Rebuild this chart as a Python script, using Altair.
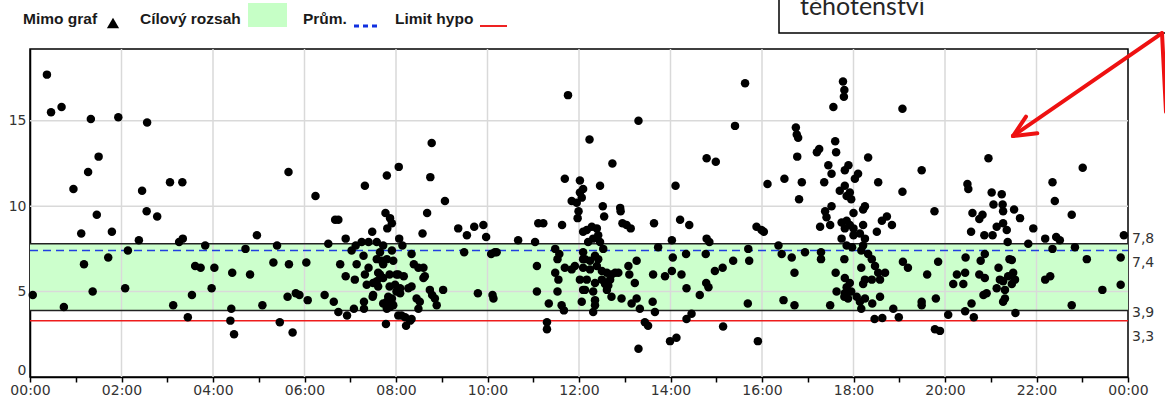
import altair as alt
import pandas as pd

# ---------------- data ----------------
hours = [
    0.37, 0.46, 0.69, 1.33, 1.93, 2.56, 1.50, 1.27, 0.95, 3.06, 3.33, 2.45, 1.46, 2.55, 2.78, 1.12, 1.79, 2.38,
    3.26, 3.34, 3.83, 2.14, 1.71, 1.18, 3.61, 3.73, 4.03, 0.06, 1.37, 2.08, 3.54, 3.97, 0.74, 3.13, 3.45,
    5.65, 6.24, 7.32, 7.80, 8.06, 4.96, 6.67, 6.74, 7.77, 7.87, 7.91, 7.81, 7.48, 6.90, 6.52, 5.40, 4.71, 4.42,
    4.81, 5.32, 5.66, 6.04, 5.08, 5.63, 5.81, 5.89, 6.07, 6.44, 6.64, 6.74, 6.93, 7.08, 7.30, 7.30, 4.40, 4.38,
    4.46, 5.46, 5.74, 7.78, 6.78, 6.90, 7.10, 7.14,
    7.03, 7.12, 7.25, 7.40, 7.58, 7.72, 7.91, 7.29, 7.40, 7.32, 7.58, 7.65, 7.72, 7.80, 7.94, 7.61, 7.72, 7.86,
    8.01, 7.36, 7.50, 7.61, 7.86, 8.01, 7.91, 7.80, 7.94, 7.50, 7.80, 8.05, 7.49, 7.69, 7.83, 7.72, 7.87, 7.65, 7.58,
    8.78, 8.75, 9.07, 8.68, 8.58, 9.36, 9.55, 9.71, 9.91, 9.97, 8.07, 8.14, 8.34, 9.49, 10.08, 10.16, 10.20,
    8.39, 8.49, 8.60, 8.63, 8.05, 8.17, 7.98, 8.09, 8.27, 8.34, 8.74, 8.79, 8.85, 9.03, 8.45, 8.52, 8.49, 8.89,
    9.79, 10.11, 10.13, 8.12, 8.31, 8.22, 10.67, 11.04, 11.11, 11.22, 11.63, 11.76, 11.69, 12.02, 12.02, 12.09,
    11.84, 11.95, 11.99, 11.97, 12.09, 11.08, 11.08, 11.34, 11.30, 11.30, 11.48, 11.57, 11.53, 11.48, 11.55,
    11.69, 11.91, 11.84, 12.02, 11.53, 11.62, 11.67, 12.06, 12.09, 12.09, 12.09,
    8.60, 7.80, 7.91, 8.09, 8.20, 8.34,
    13.30, 12.23, 12.73, 12.06, 12.46, 12.52, 12.55, 12.90, 12.91, 12.95, 13.04, 13.13, 13.64, 14.21, 14.41,
    14.11, 14.79, 14.99, 15.41, 15.63, 16.12, 15.88, 15.99, 16.04,
    12.17, 12.28, 12.39, 12.42, 12.31, 12.20, 12.46, 12.53, 12.13, 12.24, 12.35, 12.42, 12.09, 12.24, 12.39,
    12.50, 12.61, 12.71, 12.79, 12.86, 12.17, 12.35, 12.50, 12.57, 12.64, 12.68, 12.13, 12.31, 12.61, 12.71,
    12.93, 12.35, 12.35, 12.31, 13.08, 13.10, 13.26, 13.22, 13.15, 13.26, 13.33, 13.62, 13.88, 14.03, 14.24,
    13.61, 13.66, 13.44, 13.51, 13.30, 13.99, 14.13, 13.73, 14.03, 14.05, 14.34, 14.35, 14.35, 14.46, 14.64,
    14.79, 14.85, 14.77, 14.78, 14.83, 14.97, 15.14, 15.37, 15.15, 15.70, 15.72, 15.69, 15.91,
    17.77, 17.80, 17.79, 17.56, 19.07, 16.74, 16.76, 16.79, 16.77, 17.20, 17.25, 17.60, 17.62, 18.32, 17.45,
    17.52, 17.89, 17.81, 18.10, 18.03, 16.49, 16.87, 17.36, 18.54, 19.49, 19.07, 16.81, 17.70, 17.81, 17.92,
    17.85, 17.95, 17.38, 17.52, 17.41, 18.21, 18.25, 18.00, 17.27, 17.49, 17.74, 17.85, 17.92, 17.81, 18.00,
    18.21, 18.14, 18.25, 18.00, 18.62, 18.73, 18.84, 18.51, 17.74, 17.85, 17.97, 18.21, 16.36, 16.43, 16.65,
    16.94, 17.29, 17.29, 17.80, 18.17, 18.32, 18.40, 18.47, 18.54, 18.58, 18.69, 18.17, 18.25, 18.40, 18.21,
    16.71, 17.61, 17.81, 17.92, 17.85, 17.81, 17.95, 17.88, 17.80, 17.63, 18.07, 18.14, 18.17, 18.25, 18.41,
    18.58, 16.47, 16.71, 17.49, 18.46, 18.63, 18.87, 18.99, 19.08, 19.19, 19.61, 19.85, 19.49, 19.49, 19.80,
    19.77, 20.07, 19.78, 19.89, 20.18,
    20.95, 23.01, 20.49, 20.51, 21.02, 21.24, 22.35, 22.40, 21.06, 21.26, 21.27, 21.51, 21.64, 20.60, 20.82,
    20.75, 22.77, 21.13, 21.27, 21.35, 20.57, 20.86, 21.04, 21.93, 21.37, 21.82, 22.19, 22.43, 22.51, 22.35,
    22.84, 23.91, 20.45, 20.78, 20.87, 21.17, 21.41, 21.46, 23.10, 23.84, 20.26, 20.44, 20.40, 20.75, 20.87,
    21.20, 21.27, 21.38, 21.49, 21.53, 21.46, 21.31, 21.13, 22.19, 22.30, 20.84, 20.91, 21.27, 21.31, 20.58,
    23.44, 23.84, 22.77, 20.44, 20.63, 21.54,
]
values = [
    17.7, 15.5, 15.8, 15.1, 15.2, 14.9, 12.9, 12.0, 11.0, 11.4, 11.4, 10.9, 9.5, 9.7, 9.4, 8.4, 8.5, 8.0,
    7.9, 8.1, 7.7, 7.4, 7.0, 6.6, 6.5, 6.4, 6.4, 4.8, 5.0, 5.2, 4.8, 5.2, 4.1, 4.2, 3.5,
    12.0, 10.6, 11.2, 11.8, 12.3, 8.3, 9.2, 9.2, 9.6, 9.3, 9.0, 8.7, 8.5, 8.1, 7.8, 7.7, 7.5, 6.1,
    6.0, 6.7, 6.6, 6.7, 4.2, 4.7, 4.9, 4.8, 4.5, 4.8, 4.4, 3.8, 3.6, 4.0, 4.4, 4.0, 4.0, 3.3,
    2.5, 3.2, 2.6, 3.1, 6.6, 5.9, 5.7, 6.6,
    7.4, 7.7, 7.9, 7.9, 7.9, 7.7, 7.4, 7.1, 6.4, 6.0, 6.9, 7.3, 6.6, 6.9, 6.8, 6.1, 5.8, 6.0,
    6.0, 5.4, 5.5, 5.3, 5.3, 5.0, 4.6, 4.4, 4.2, 4.8, 4.0, 3.6, 4.7, 6.8, 4.7, 4.3, 4.1, 6.0, 5.6,
    13.7, 11.7, 10.3, 9.6, 8.4, 8.7, 8.3, 8.8, 8.9, 8.2, 8.1, 7.7, 7.2, 7.3, 7.2, 7.3, 7.3,
    6.6, 6.4, 6.4, 5.9, 6.0, 5.9, 5.4, 5.2, 5.2, 5.3, 5.1, 4.8, 4.6, 5.1, 4.6, 4.4, 4.0, 4.2,
    4.9, 4.8, 4.6, 3.6, 3.3, 3.0, 8.0, 7.9, 9.0, 9.0, 8.9, 16.5, 11.6, 11.5, 10.8, 11.0,
    10.3, 10.2, 9.7, 9.3, 8.5, 6.5, 5.0, 4.3, 3.2, 2.8, 7.5, 7.2, 6.9, 6.1, 5.7,
    6.4, 6.5, 6.3, 5.7, 5.0, 4.2, 3.9, 4.4, 7.3, 6.9, 5.1,
    5.8, 4.1, 4.3, 4.9, 3.5, 3.4,
    15.0, 13.9, 12.5, 10.5, 11.2, 10.0, 9.4, 9.9, 9.7, 9.0, 8.9, 8.7, 9.0, 9.2, 8.9,
    11.2, 12.8, 12.6, 14.7, 17.2, 11.3, 8.8, 8.6, 8.5,
    8.6, 8.8, 8.7, 8.3, 8.1, 7.9, 7.9, 7.5, 6.9, 6.8, 7.1, 6.9, 6.4, 6.3, 6.5,
    6.2, 6.1, 6.0, 6.1, 6.1, 5.7, 5.5, 5.7, 5.45, 5.35, 5.7, 5.1, 5.0, 5.1, 4.7,
    4.6, 4.5, 4.2, 3.8, 6.5, 6.0, 6.8, 5.5, 4.3, 4.6, 4.0, 6.0, 5.9, 6.2, 6.0,
    4.4, 3.8, 3.2, 3.0, 1.65, 2.1, 2.3, 7.6, 8.0, 7.0, 7.2, 5.2, 3.4, 3.7, 4.8,
    8.1, 7.9, 7.2, 5.5, 5.25, 6.2, 6.4, 6.8, 2.95, 7.5, 6.8, 4.3, 2.1,
    17.3, 16.8, 16.4, 15.8, 15.7, 14.6, 14.2, 14.0, 12.9, 13.15, 13.35, 13.8, 13.15, 12.85, 12.4,
    11.9, 12.4, 12.1, 11.9, 11.6, 11.6, 11.4, 11.4, 11.4, 12.1, 10.85, 10.4, 10.9, 11.2, 10.8,
    10.6, 10.4, 9.7, 10.0, 9.35, 9.8, 10.0, 9.6, 8.8, 8.9, 9.05, 9.15, 8.9, 8.7, 8.7,
    8.9, 8.4, 8.1, 8.3, 9.15, 9.4, 8.9, 8.5, 8.1, 7.7, 7.6, 7.7, 7.7, 7.2, 7.0,
    7.3, 7.3, 6.9, 6.9, 7.4, 7.2, 6.9, 6.5, 6.1, 5.7, 6.1, 6.4, 5.7, 5.7, 5.45,
    6.1, 6.1, 5.8, 5.5, 5.25, 4.9, 5.0, 4.6, 4.7, 5.0, 4.7, 4.4, 4.0, 4.6, 4.3,
    4.7, 4.5, 4.2, 4.2, 3.4, 3.45, 4.0, 3.5, 6.75, 6.4, 6.0, 6.75, 4.4, 4.2, 4.6,
    9.7, 3.65, 2.8, 2.7, 5.45,
    12.8, 12.25, 11.3, 11.0, 10.8, 10.7, 11.4, 10.3, 10.1, 10.1, 9.7, 9.8, 9.3, 9.6, 9.5,
    9.25, 9.5, 8.8, 9.0, 8.6, 8.5, 8.3, 8.3, 8.7, 7.9, 7.8, 8.1, 8.2, 8.0, 7.5,
    7.6, 8.3, 7.0, 6.8, 7.2, 6.4, 6.9, 6.85, 6.9, 7.0, 6.0, 6.1, 5.45, 6.0, 5.8,
    5.7, 5.6, 5.9, 6.1, 5.7, 5.45, 5.1, 5.2, 5.7, 5.9, 4.8, 4.9, 4.4, 4.6, 4.3,
    5.1, 5.4, 4.2, 3.85, 3.5, 3.75,
]

target_range = [3.9, 7.8]          # Cílový rozsah
mean_value = 7.4                   # Prům.
hypo_limit = 3.3                   # Limit hypo
y_tick_values = [0, 5, 10, 15]
y_grid_values = [5, 10, 15]
x_tick_hours = list(range(0, 25))
x_grid_hours = list(range(2, 24, 2))
ref_values = [7.8, 7.4, 3.9, 3.3]
ref_labels = ["7,8", "7,4", "3,9", "3,3"]
legend_labels = ["Mimo graf", "Cílový rozsah", "Prům.", "Limit hypo"]
note_text = "těhotenství"

# ---------------- layout / style ----------------
W, H = 1098, 328
FONT = "DejaVu Sans"
LEG_FONT = "Liberation Sans"
LEG_SIZE = 15.5
TXT = "#333333"

xscale = alt.Scale(domain=[0, 24], nice=False, zero=False)
yscale = alt.Scale(domain=[0, 19.2], nice=False, zero=False)

xaxis = alt.Axis(
    values=x_tick_hours, title=None, grid=False,
    labelExpr="datum.value % 2 == 0 ? ((datum.value % 24 < 10 ? '0' : '') + (datum.value % 24) + ':00') : ''",
    tickSize=5, tickColor="black", tickWidth=1.5, domainColor="black", domainWidth=1.5,
    labelFont=FONT, labelFontSize=14, labelColor=TXT, labelPadding=1, labelFlush=False,
    labelOverlap=False,
)
yaxis = alt.Axis(
    values=y_tick_values, title=None, grid=False, ticks=False,
    domainColor="black", domainWidth=1.5,
    labelFont=FONT, labelFontSize=14, labelColor=TXT, labelPadding=4, labelFlush=True,
)


def X(field):
    return alt.X(field, scale=xscale, axis=xaxis)


def Y(field):
    return alt.Y(field, scale=yscale, axis=yaxis)


one = pd.DataFrame({"k": [0]})
pts = pd.DataFrame({"h": hours, "v": values})

band = alt.Chart(pd.DataFrame({"lo": [target_range[0]], "hi": [target_range[1]]})).mark_rect(
    color="#ccffcc"
).encode(y=Y("lo:Q"), y2="hi:Q", x=alt.value(0), x2=alt.value(W))

grid_x = alt.Chart(pd.DataFrame({"h": x_grid_hours})).mark_rule(color="#d9d9d9", strokeWidth=1.5).encode(
    x=X("h:Q"), y=alt.value(0), y2=alt.value(H)
)
grid_y = alt.Chart(pd.DataFrame({"v": y_grid_values})).mark_rule(color="#d9d9d9", strokeWidth=1.5).encode(
    y=Y("v:Q"), x=alt.value(0), x2=alt.value(W)
)

band_edges = alt.Chart(pd.DataFrame({"v": target_range})).mark_rule(color="#222222", strokeWidth=1.5).encode(
    y=Y("v:Q"), x=alt.value(0), x2=alt.value(W)
)
mean_line = alt.Chart(pd.DataFrame({"v": [mean_value]})).mark_rule(
    color="#2040e0", strokeWidth=1.5, strokeDash=[8, 5]
).encode(y=Y("v:Q"), x=alt.value(0), x2=alt.value(W))
hypo_line = alt.Chart(pd.DataFrame({"v": [hypo_limit]})).mark_rule(color="#ee1c1c", strokeWidth=1.5).encode(
    y=Y("v:Q"), x=alt.value(0), x2=alt.value(W)
)

points = alt.Chart(pts).mark_circle(size=72, color="black", opacity=1).encode(x=X("h:Q"), y=Y("v:Q"))

# right-side value labels (spread apart as in the original)
label_dy = [-5, 12, 3, 16]
right_labels = []
for val, lab, dy in zip(ref_values, ref_labels, label_dy):
    right_labels.append(
        alt.Chart(pd.DataFrame({"v": [val], "t": [lab]})).mark_text(
            align="left", baseline="middle", dx=4, dy=dy, font=FONT, fontSize=14, color=TXT
        ).encode(y=Y("v:Q"), x=alt.value(W), text="t:N")
    )

# ---------------- legend (top left) ----------------
leg_y = -30


def leg_text(label, x):
    return alt.Chart(one).mark_text(
        text=label, align="left", baseline="middle", font=LEG_FONT,
        fontSize=LEG_SIZE, fontWeight="bold", color="#1a1a1a"
    ).encode(x=alt.value(x), y=alt.value(leg_y))


legend = [
    leg_text(legend_labels[0], -7),
    alt.Chart(one).mark_point(shape="triangle-up", filled=True, size=150, color="black", opacity=1).encode(
        x=alt.value(83), y=alt.value(-26)),
    leg_text(legend_labels[1], 110),
    alt.Chart(one).mark_rect(color="#c6ffc6").encode(
        x=alt.value(218), x2=alt.value(257), y=alt.value(-46), y2=alt.value(-22)),
    leg_text(legend_labels[2], 273),
    alt.Chart(one).mark_rule(color="#1030e0", strokeWidth=3, strokeDash=[5, 4]).encode(
        x=alt.value(324), x2=alt.value(351), y=alt.value(-23)),
    leg_text(legend_labels[3], 365),
    alt.Chart(one).mark_rule(color="#ee2222", strokeWidth=2).encode(
        x=alt.value(450), x2=alt.value(477), y=alt.value(-23)),
]

# ---------------- annotation box + arrows ----------------
annot = [
    alt.Chart(one).mark_rect(fill="white", stroke="black", strokeWidth=1.5).encode(
        x=alt.value(749), x2=alt.value(1145), y=alt.value(-70), y2=alt.value(-16)),
    alt.Chart(one).mark_text(text=note_text, align="left", baseline="alphabetic", font="Lato",
                             fontSize=25, color="#262626").encode(x=alt.value(770), y=alt.value(-34)),
    alt.Chart(one).mark_rule(color="#ee1111", strokeWidth=4, strokeCap="round").encode(
        x=alt.value(1131.7), y=alt.value(-15.7), x2=alt.value(983), y2=alt.value(87)),
    alt.Chart(one).mark_rule(color="#ee1111", strokeWidth=4, strokeCap="round").encode(
        x=alt.value(983), y=alt.value(87), x2=alt.value(996), y2=alt.value(67.7)),
    alt.Chart(one).mark_rule(color="#ee1111", strokeWidth=4, strokeCap="round").encode(
        x=alt.value(983), y=alt.value(87), x2=alt.value(1007.3), y2=alt.value(84.3)),
    alt.Chart(one).mark_rule(color="#ee1111", strokeWidth=4, strokeCap="round").encode(
        x=alt.value(1132), y=alt.value(-16), x2=alt.value(1136), y2=alt.value(63)),
]

chart = alt.layer(
    band, grid_x, grid_y, band_edges, mean_line, hypo_line, points, *right_labels, *legend, *annot
).properties(
    width=W, height=H,
    autosize=alt.AutoSizeParams(type="none"),
    padding={"left": 30, "top": 49, "right": 37, "bottom": 23},
    background="white",
).configure_view(stroke="black", strokeWidth=1.5)

chart.save("out.html", embed_options={"renderer": "svg", "actions": False})
